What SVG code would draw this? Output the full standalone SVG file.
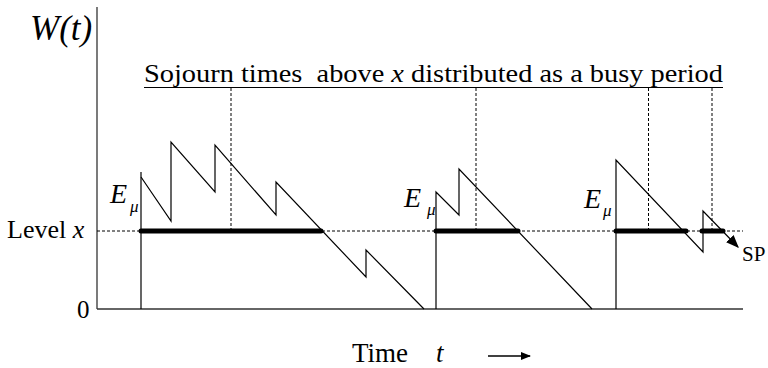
<svg xmlns="http://www.w3.org/2000/svg" width="768" height="368" viewBox="0 0 768 368" font-family="'Liberation Serif', 'Times New Roman', Times, 'DejaVu Serif', serif">
<defs>
<style>
text{font-family:'Liberation Serif','Times New Roman',Times,'DejaVu Serif',serif;fill:#000}
.it{font-style:italic}
.axis{stroke:#333;stroke-width:1.3;fill:none}
.dash{stroke:#000;stroke-width:1;stroke-dasharray:3,2;fill:none}
.saw{stroke:#000;stroke-width:1.2;fill:none}
.thick{stroke:#000;stroke-width:5;stroke-linecap:round}
</style>
<marker id="ah" viewBox="0 0 10 10" refX="9" refY="5" markerWidth="10" markerHeight="10" markerUnits="userSpaceOnUse" orient="auto">
<path d="M0,1 L10,5 L0,9 Z" fill="#000"/>
</marker>
<marker id="ah2" viewBox="0 0 10 10" refX="9" refY="5" markerWidth="13" markerHeight="13" markerUnits="userSpaceOnUse" orient="auto">
<path d="M0,1 L10,5 L0,9 Z" fill="#000"/>
</marker>
</defs>
<g id="axes">
<line class="axis" x1="97" y1="7" x2="97" y2="309"/>
<line class="axis" x1="97" y1="309" x2="743" y2="309"/>
<text class="it" x="30" y="40" font-size="35">W(t)</text>
<text x="7" y="238" font-size="26">Level <tspan class="it">x</tspan></text>
<text x="77" y="318" font-size="25">0</text>
<text x="352" y="362" font-size="27">Time</text>
<text class="it" x="436" y="362" font-size="27">t</text>
<line x1="488" y1="356" x2="530" y2="356" stroke="#000" stroke-width="1.3" marker-end="url(#ah)"/>
</g>
<g id="title">
<text x="144" y="82" font-size="25" textLength="579" lengthAdjust="spacingAndGlyphs" xml:space="preserve">Sojourn times  above <tspan class="it">x</tspan> distributed as a busy period</text>
<line x1="144" y1="87.5" x2="723" y2="87.5" stroke="#000" stroke-width="1.2"/>
</g>
<g id="connectors">
<line class="dash" x1="97" y1="231" x2="743" y2="231"/>
<line class="dash" x1="231" y1="88" x2="231" y2="231"/>
<line class="dash" x1="476" y1="88" x2="476" y2="231"/>
<line class="dash" x1="648.5" y1="88" x2="648.5" y2="231"/>
<line class="dash" x1="712" y1="88" x2="712" y2="231"/>
</g>
<g id="busy1">
<line class="saw" x1="141" y1="309" x2="141" y2="172"/>
<path class="saw" d="M141 177 L171 221 V142 L215 192 V145 L276 215 V182 L366 277 V250 L424 309"/>
<line class="thick" x1="141" y1="231" x2="321" y2="231"/>
<text class="it" x="110" y="203" font-size="28">E</text>
<text class="it" x="130" y="212" font-size="17">μ</text>
</g>
<g id="busy2">
<path class="saw" d="M436 309 V192 L459 215 V169 L592 309"/>
<line class="thick" x1="436" y1="231" x2="518" y2="231"/>
<text class="it" x="404" y="206.5" font-size="28">E</text>
<text class="it" x="427" y="215" font-size="17">μ</text>
</g>
<g id="busy3">
<path class="saw" d="M616 309 V160 L703 252 V211 L738 247" marker-end="url(#ah2)"/>
<line class="thick" x1="616" y1="231" x2="686" y2="231"/>
<line class="thick" x1="702" y1="231" x2="723" y2="231"/>
<text class="it" x="584" y="208" font-size="28">E</text>
<text class="it" x="603" y="216" font-size="17">μ</text>
<text x="742" y="261" font-size="21">SP</text>
</g>
</svg>
